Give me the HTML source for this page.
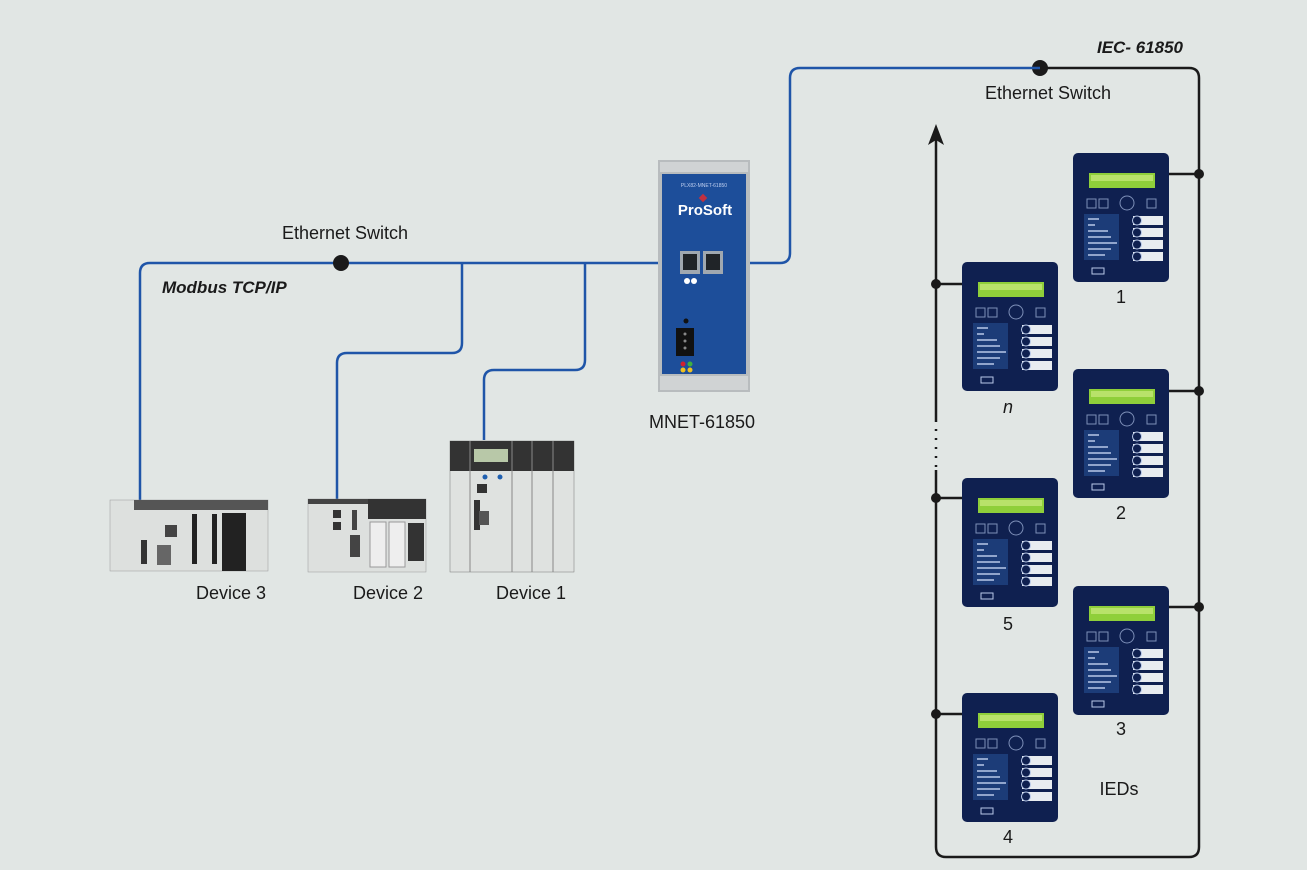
<!DOCTYPE html>
<html><head><style>
body{margin:0;background:#e1e6e4;}
svg{display:block;font-family:"Liberation Sans",sans-serif;}
</style></head><body>
<svg width="1307" height="870" viewBox="0 0 1307 870">
<rect width="1307" height="870" fill="#e1e6e4"/>
<defs>
<g id="ied">
<rect x="0" y="0" width="96" height="129" rx="5" fill="#0f2050"/>
<rect x="16" y="20" width="66" height="15" fill="#8fcf3a"/>
<rect x="18" y="22" width="62" height="6" fill="#b8e26a"/>
<g fill="none" stroke="#7d8fb8" stroke-width="1">
<rect x="14" y="46" width="9" height="9"/><rect x="26" y="46" width="9" height="9"/><rect x="74" y="46" width="9" height="9"/>
<circle cx="54" cy="50" r="7"/>
</g>
<rect x="11" y="61" width="35" height="46" fill="#1c3c78"/>
<g stroke="#b8c8e8" stroke-width="1.5"><line x1="15" y1="66" x2="26" y2="66"/><line x1="15" y1="72" x2="22" y2="72"/><line x1="15" y1="78" x2="35" y2="78"/><line x1="15" y1="84" x2="38" y2="84"/><line x1="15" y1="90" x2="44" y2="90"/><line x1="15" y1="96" x2="38" y2="96"/><line x1="15" y1="102" x2="32" y2="102"/></g>
<g fill="#e8ecf0"><rect x="60" y="63" width="30" height="9"/><rect x="60" y="75" width="30" height="9"/><rect x="60" y="87" width="30" height="9"/><rect x="60" y="99" width="30" height="9"/></g>
<g fill="#0f2050" stroke="#b8c8e8" stroke-width="1"><circle cx="64" cy="67.5" r="4.5"/><circle cx="64" cy="79.5" r="4.5"/><circle cx="64" cy="91.5" r="4.5"/><circle cx="64" cy="103.5" r="4.5"/></g>
<rect x="19" y="115" width="12" height="6" fill="none" stroke="#b8c8e8"/>
</g>
</defs>
<!-- black network -->
<g fill="none" stroke="#1a1a1a" stroke-width="2.5">
<path d="M1040 68 H1189 Q1199 68 1199 78 V847 Q1199 857 1189 857 H946 Q936 857 936 847 V470"/>
<path d="M936 420 V135"/>
<line x1="936" y1="420" x2="936" y2="470" stroke-dasharray="2 7"/>
<line x1="1169" y1="174" x2="1199" y2="174"/><line x1="1169" y1="391" x2="1199" y2="391"/><line x1="1169" y1="607" x2="1199" y2="607"/>
<line x1="936" y1="284" x2="962" y2="284"/><line x1="936" y1="498" x2="962" y2="498"/><line x1="936" y1="714" x2="962" y2="714"/>
</g>
<polygon points="936,124 928,145 936,140 944,145" fill="#1a1a1a"/>
<g fill="#1a1a1a"><circle cx="1040" cy="68" r="8"/><circle cx="1199" cy="174" r="5"/><circle cx="1199" cy="391" r="5"/><circle cx="1199" cy="607" r="5"/><circle cx="936" cy="284" r="5"/><circle cx="936" cy="498" r="5"/><circle cx="936" cy="714" r="5"/></g>
<!-- blue network -->
<g fill="none" stroke="#1f55a8" stroke-width="2.5">
<path d="M1040 68 H800 Q790 68 790 78 V253 Q790 263 780 263 H748"/>
<path d="M660 263 H150 Q140 263 140 273 V500"/>
<path d="M462 263 V343 Q462 353 452 353 H347 Q337 353 337 363 V500"/>
<path d="M585 263 V360 Q585 370 575 370 H494 Q484 370 484 380 V440"/>
</g>
<circle cx="341" cy="263" r="8" fill="#1a1a1a"/>
<!-- MNET -->
<rect x="658" y="160" width="92" height="232" fill="#b8bcbe"/>
<rect x="660" y="162" width="88" height="10" fill="#d0d3d4"/>
<rect x="660" y="376" width="88" height="14" fill="#d0d3d4"/>
<rect x="662" y="174" width="84" height="200" fill="#1d4e9a"/>
<text x="704" y="187" font-size="5" fill="#c0d0f0" text-anchor="middle">PLX82-MNET-61850</text>
<rect x="700" y="195" width="6" height="6" fill="#c03040" transform="rotate(45 703 198)"/>
<text x="705" y="215" font-size="15" font-weight="bold" fill="#fff" text-anchor="middle">ProSoft</text>
<rect x="680" y="251" width="20" height="23" fill="#a0a8b0"/><rect x="683" y="254" width="14" height="16" fill="#202428"/>
<rect x="703" y="251" width="20" height="23" fill="#a0a8b0"/><rect x="706" y="254" width="14" height="16" fill="#202428"/>
<circle cx="687" cy="281" r="3" fill="#fff"/><circle cx="694" cy="281" r="3" fill="#fff"/>
<circle cx="686" cy="321" r="2.5" fill="#111"/>
<rect x="676" y="328" width="18" height="28" fill="#111"/>
<circle cx="685" cy="334" r="1.5" fill="#888"/><circle cx="685" cy="341" r="1.5" fill="#888"/><circle cx="685" cy="348" r="1.5" fill="#888"/>
<circle cx="683" cy="364" r="2.5" fill="#d02030"/><circle cx="690" cy="364" r="2.5" fill="#40b040"/>
<circle cx="683" cy="370" r="2.5" fill="#f0c020"/><circle cx="690" cy="370" r="2.5" fill="#f0c020"/>
<!-- Device 3 -->
<rect x="110" y="500" width="158" height="71" fill="#dde0de" stroke="#999" stroke-width="0.5"/>
<rect x="134" y="500" width="134" height="10" fill="#555"/>
<rect x="222" y="513" width="24" height="58" fill="#222"/>
<rect x="192" y="514" width="5" height="50" fill="#222"/><rect x="212" y="514" width="5" height="50" fill="#222"/>
<rect x="165" y="525" width="12" height="12" fill="#444"/><rect x="157" y="545" width="14" height="20" fill="#666"/>
<rect x="141" y="540" width="6" height="24" fill="#333"/>
<!-- Device 2 -->
<rect x="308" y="499" width="118" height="73" fill="#dde0de" stroke="#999" stroke-width="0.5"/>
<rect x="308" y="499" width="118" height="5" fill="#444"/>
<rect x="368" y="499" width="58" height="20" fill="#333"/>
<rect x="370" y="522" width="16" height="45" fill="#eee" stroke="#999"/><rect x="389" y="522" width="16" height="45" fill="#eee" stroke="#999"/>
<rect x="408" y="523" width="16" height="38" fill="#333"/>
<rect x="333" y="510" width="8" height="8" fill="#333"/><rect x="333" y="522" width="8" height="8" fill="#333"/>
<rect x="352" y="510" width="5" height="20" fill="#444"/><rect x="350" y="535" width="10" height="22" fill="#444"/>
<!-- Device 1 -->
<rect x="450" y="441" width="124" height="131" fill="#dfe2e0" stroke="#777" stroke-width="0.5"/>
<rect x="450" y="441" width="124" height="30" fill="#333"/>
<rect x="474" y="449" width="34" height="13" fill="#b8c8a8"/>
<line x1="470" y1="441" x2="470" y2="572" stroke="#888"/><line x1="512" y1="441" x2="512" y2="572" stroke="#888"/><line x1="532" y1="441" x2="532" y2="572" stroke="#888"/><line x1="553" y1="441" x2="553" y2="572" stroke="#888"/>
<circle cx="485" cy="477" r="2.5" fill="#2060b0"/><circle cx="500" cy="477" r="2.5" fill="#2060b0"/>
<rect x="477" y="484" width="10" height="9" fill="#333"/><rect x="474" y="500" width="6" height="30" fill="#333"/><rect x="479" y="511" width="10" height="14" fill="#555"/>
<!-- IEDs -->
<use href="#ied" x="1073" y="153"/>
<use href="#ied" x="962" y="262"/>
<use href="#ied" x="1073" y="369"/>
<use href="#ied" x="962" y="478"/>
<use href="#ied" x="1073" y="586"/>
<use href="#ied" x="962" y="693"/>
<!-- labels -->
<g font-size="18" fill="#1a1a1a">
<text x="1048" y="99" text-anchor="middle">Ethernet Switch</text>
<text x="345" y="239" text-anchor="middle">Ethernet Switch</text>
<text x="702" y="428" text-anchor="middle">MNET-61850</text>
<text x="231" y="599" text-anchor="middle">Device 3</text>
<text x="388" y="599" text-anchor="middle">Device 2</text>
<text x="531" y="599" text-anchor="middle">Device 1</text>
<text x="1121" y="303" text-anchor="middle">1</text>
<text x="1121" y="519" text-anchor="middle">2</text>
<text x="1121" y="735" text-anchor="middle">3</text>
<text x="1008" y="630" text-anchor="middle">5</text>
<text x="1008" y="843" text-anchor="middle">4</text>
<text x="1008" y="413" text-anchor="middle" font-style="italic">n</text>
<text x="1119" y="795" text-anchor="middle">IEDs</text>
</g>
<text x="1097" y="53" font-size="17" font-weight="bold" font-style="italic" fill="#1a1a1a">IEC- 61850</text>
<text x="162" y="293" font-size="17" font-weight="bold" font-style="italic" fill="#1a1a1a">Modbus TCP/IP</text>
</svg>
</body></html>
